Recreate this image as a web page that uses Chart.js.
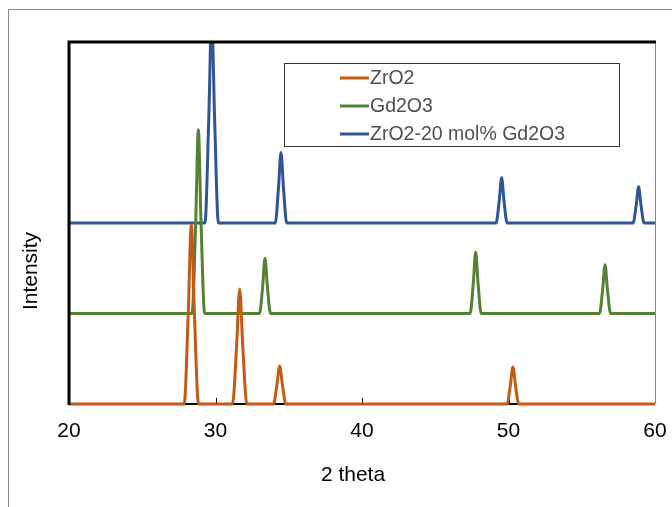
<!DOCTYPE html>
<html>
<head>
<meta charset="utf-8">
<script src="https://cdn.jsdelivr.net/npm/chart.js@4/dist/chart.umd.min.js"></script>
<style>
html,body{margin:0;padding:0;background:#fff;}
#wrap{position:relative;width:672px;height:507px;}
</style>
</head>
<body>
<div id="wrap"><canvas id="c" width="672" height="507"></canvas></div>
<script>
// ---- data ----
const seriesNames = ["ZrO2", "Gd2O3", "ZrO2-20 mol% Gd2O3"];
const xTicks = [20, 30, 40, 50, 60];
const xTitle = "2 theta";
const yTitle = "Intensity";

const zro2X = [20, 27.86, 28.14, 28.35, 28.56, 28.84, 31.16, 31.44, 31.65, 31.86, 32.14, 33.96, 34.19, 34.38, 34.57, 34.8, 49.9, 50.12, 50.3, 50.48, 50.7, 60];
const zro2Y = [0, 0, 1.0, 1.98, 1.0, 0, 0, 0.64, 1.27, 0.64, 0, 0, 0.21, 0.42, 0.21, 0, 0, 0.2, 0.41, 0.2, 0, 0];

const gd2o3X = [20, 28.4, 28.65, 28.83, 29.01, 29.26, 33.0, 33.22, 33.38, 33.54, 33.76, 47.38, 47.6, 47.76, 47.92, 48.14, 56.21, 56.43, 56.59, 56.75, 56.97, 60];
const gd2o3Y = [1, 1, 2.02, 3.03, 2.02, 1, 1, 1.3, 1.61, 1.3, 1, 1, 1.34, 1.68, 1.34, 1, 1, 1.27, 1.54, 1.27, 1, 1];

const mixX = [20, 29.28, 29.54, 29.74, 29.94, 30.2, 34.08, 34.3, 34.47, 34.64, 34.86, 49.15, 49.37, 49.53, 49.69, 49.91, 58.5, 58.72, 58.88, 59.04, 59.26, 60];
const mixY = [2, 2, 3.15, 4.3, 3.15, 2, 2, 2.39, 2.78, 2.39, 2, 2, 2.25, 2.5, 2.25, 2, 2, 2.2, 2.4, 2.2, 2, 2];

const colors = ["#C65A14", "#548235", "#2F5597"];

function pts(xs, ys){ return xs.map((x,i)=>({x:x, y:ys[i]})); }

const FONT = "'Liberation Sans', Arial, sans-serif";

const framePlugin = {
  id: 'frame',
  beforeDraw(chart){
    const ctx = chart.ctx;
    ctx.save();
    ctx.fillStyle = '#fff';
    ctx.fillRect(0,0,chart.width,chart.height);
    ctx.strokeStyle = '#888';
    ctx.lineWidth = 1;
    ctx.beginPath();
    ctx.moveTo(8.5, chart.height);
    ctx.lineTo(8.5, 9.5);
    ctx.lineTo(chart.width, 9.5);
    ctx.stroke();
    ctx.restore();
  },
  beforeDatasetsDraw(chart){
    const ctx = chart.ctx, a = chart.chartArea, xs = chart.scales.x;
    ctx.save();
    ctx.strokeStyle = '#000';
    ctx.lineWidth = 2;
    ctx.beginPath(); ctx.moveTo(a.left, a.bottom); ctx.lineTo(a.right, a.bottom); ctx.stroke();
    ctx.lineWidth = 1;
    xTicks.forEach(v=>{
      const px = Math.round(xs.getPixelForValue(v)) + 0.5;
      ctx.beginPath(); ctx.moveTo(px, a.bottom); ctx.lineTo(px, a.bottom - 6); ctx.stroke();
    });
    ctx.strokeStyle = '#888';
    ctx.beginPath(); ctx.moveTo(a.right + 0.5, a.top); ctx.lineTo(a.right + 0.5, a.bottom); ctx.stroke();
    ctx.restore();
  },
  afterDatasetsDraw(chart){
    const ctx = chart.ctx, a = chart.chartArea;
    ctx.save();
    ctx.strokeStyle = '#000';
    ctx.lineWidth = 3;
    ctx.beginPath();
    ctx.moveTo(a.left, a.bottom + 1);
    ctx.lineTo(a.left, a.top);
    ctx.lineTo(a.right + 1, a.top);
    ctx.stroke();
    ctx.restore();
  },
  afterDraw(chart){
    const ctx = chart.ctx;
    ctx.save();
    ctx.fillStyle = '#000';
    ctx.font = '21px ' + FONT;
    ctx.textAlign = 'center';
    ctx.textBaseline = 'alphabetic';
    ctx.fillText(xTitle, 353, 481);
    ctx.translate(37, 271);
    ctx.rotate(-Math.PI/2);
    ctx.fillText(yTitle, 0, 0);
    ctx.restore();
    ctx.save();
    ctx.fillStyle = '#fff';
    ctx.fillRect(284.5, 63.5, 335, 83);
    ctx.strokeStyle = '#333';
    ctx.lineWidth = 1;
    ctx.strokeRect(284.5, 63.5, 335, 83);
    const rows = [78, 106, 134];
    ctx.font = '19.5px ' + FONT;
    ctx.textBaseline = 'middle';
    ctx.textAlign = 'left';
    chart.data.datasets.forEach((ds,i)=>{
      ctx.strokeStyle = ds.borderColor;
      ctx.lineWidth = 3;
      ctx.beginPath(); ctx.moveTo(340, rows[i]); ctx.lineTo(369, rows[i]); ctx.stroke();
      ctx.fillStyle = '#505050';
      ctx.fillText(ds.label, 370, rows[i] + 1);
    });
    ctx.restore();
  }
};

new Chart(document.getElementById('c'), {
  type: 'line',
  data: {
    datasets: [
      {label: seriesNames[0], data: pts(zro2X, zro2Y), borderColor: colors[0]},
      {label: seriesNames[1], data: pts(gd2o3X, gd2o3Y), borderColor: colors[1]},
      {label: seriesNames[2], data: pts(mixX, mixY), borderColor: colors[2]}
    ].map(d=>Object.assign(d, {borderWidth: 3, pointRadius: 0, fill: false, cubicInterpolationMode: 'monotone', clip: {left: 2, top: 0, right: 0, bottom: 3}}))
  },
  options: {
    responsive: false,
    animation: false,
    events: [],
    layout: {autoPadding: false, padding: {top: 42, right: 17, left: 0, bottom: 0}},
    plugins: {legend: {display: false}, tooltip: {enabled: false}},
    scales: {
      x: {
        type: 'linear', min: 20, max: 60,
        afterBuildTicks(s){ s.ticks = xTicks.map(v=>({value: v})); },
        afterFit(s){ s.height = 103; s.paddingLeft = 0; s.paddingRight = 0; },
        grid: {display: false, drawTicks: false},
        border: {display: false},
        ticks: {color: '#000', font: {family: FONT, size: 21}, padding: 15, maxRotation: 0, autoSkip: false}
      },
      y: {
        type: 'linear', min: 0, max: 4,
        afterFit(s){ s.width = 69; s.paddingTop = 0; s.paddingBottom = 0; },
        grid: {display: false, drawTicks: false},
        border: {display: false},
        ticks: {display: false}
      }
    }
  },
  plugins: [framePlugin]
});
</script>
</body>
</html>
